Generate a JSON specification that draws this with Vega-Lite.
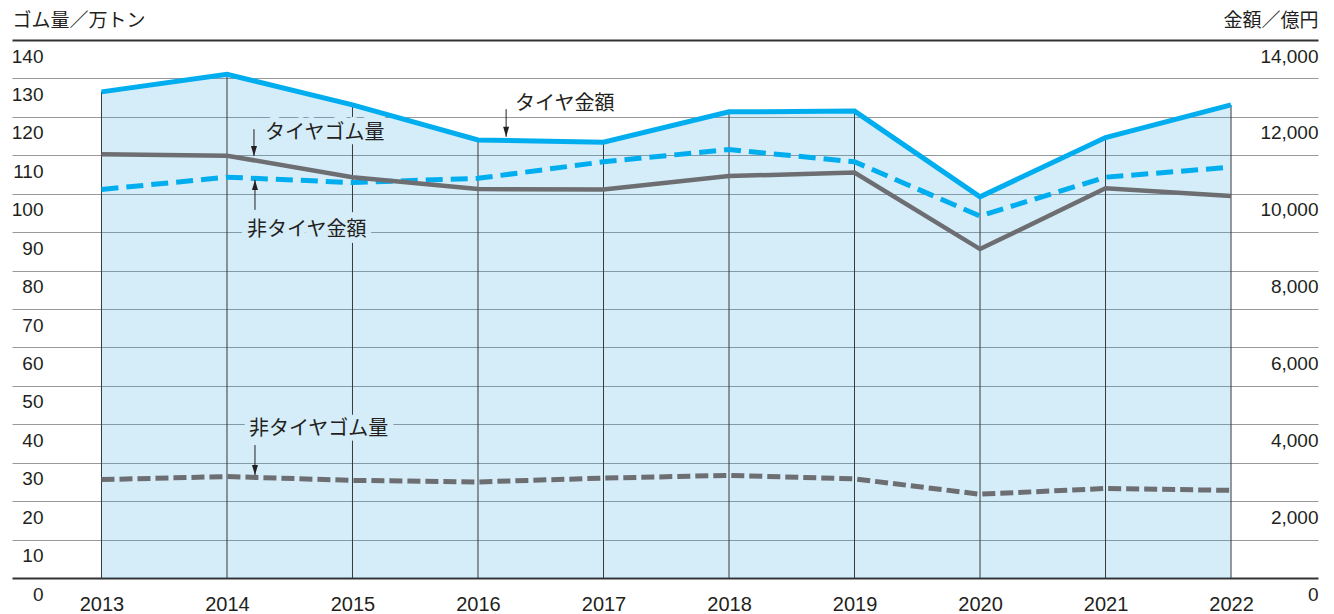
{
  "$schema": "https://vega.github.io/schema/vega-lite/v6.json",
  "width": 1306,
  "height": 538,
  "autosize": {"type": "none"},
  "padding": {"left": 12, "top": 40, "right": 16, "bottom": 36},
  "background": "white",
  "config": {"view": {"stroke": null}, "font": "Liberation Sans, Noto Sans CJK JP, sans-serif"},
  "datasets": {
    "main": [
      {"year": 2013, "tire_amt": 12650, "nontire_amt": 10110, "tire_rub": 110.3, "nontire_rub": 25.6},
      {"year": 2014, "tire_amt": 13110, "nontire_amt": 10430, "tire_rub": 109.9, "nontire_rub": 26.4},
      {"year": 2015, "tire_amt": 12310, "nontire_amt": 10290, "tire_rub": 104.3, "nontire_rub": 25.4},
      {"year": 2016, "tire_amt": 11400, "nontire_amt": 10400, "tire_rub": 101.2, "nontire_rub": 25.0},
      {"year": 2017, "tire_amt": 11340, "nontire_amt": 10830, "tire_rub": 101.1, "nontire_rub": 26.0},
      {"year": 2018, "tire_amt": 12130, "nontire_amt": 11150, "tire_rub": 104.6, "nontire_rub": 26.7},
      {"year": 2019, "tire_amt": 12150, "nontire_amt": 10830, "tire_rub": 105.5, "nontire_rub": 25.8},
      {"year": 2020, "tire_amt": 9920, "nontire_amt": 9420, "tire_rub": 85.6, "nontire_rub": 21.8},
      {"year": 2021, "tire_amt": 11460, "nontire_amt": 10430, "tire_rub": 101.4, "nontire_rub": 23.3},
      {"year": 2022, "tire_amt": 12310, "nontire_amt": 10690, "tire_rub": 99.4, "nontire_rub": 22.8}
    ],
    "notes": [
      {"label": "タイヤ金額", "year": 2016.295, "y": 123.3, "halo": "no"},
      {"label": "タイヤゴム量", "year": 2014.303, "y": 115.8, "halo": "yes"},
      {"label": "非タイヤ金額", "year": 2014.16, "y": 90.6, "halo": "yes"},
      {"label": "非タイヤゴム量", "year": 2014.175, "y": 38.8, "halo": "yes"}
    ],
    "arrows": [
      {"year": 2016.224, "y1": 122.0, "y2": 114.8, "dir": "down"},
      {"year": 2014.215, "y1": 116.8, "y2": 109.8, "dir": "down"},
      {"year": 2014.223, "y1": 95.8, "y2": 103.6, "dir": "up"},
      {"year": 2014.223, "y1": 34.6, "y2": 26.8, "dir": "down"}
    ]
  },
  "encoding": {
    "x": {
      "field": "year",
      "type": "quantitative",
      "scale": {"domain": [2012.287, 2022.693], "nice": false, "zero": false},
      "axis": {
        "values": [2013, 2014, 2015, 2016, 2017, 2018, 2019, 2020, 2021, 2022],
        "format": "d",
        "domain": false,
        "ticks": false,
        "grid": false,
        "labelFontSize": 20,
        "labelFont": "Liberation Sans",
        "labelBaseline": "middle",
        "labelPadding": 26,
        "labelFlush": false,
        "labelColor": "#231f20",
        "title": null
      }
    }
  },
  "layer": [
    {
      "data": {"name": "main"},
      "mark": {"type": "area", "fill": "#2da0e1", "fillOpacity": 0.2},
      "encoding": {
        "y": {
          "field": "tire_amt",
          "type": "quantitative",
          "stack": null,
          "scale": {"domain": [0, 14000], "nice": false},
          "axis": {
            "orient": "right",
            "values": [0, 2000, 4000, 6000, 8000, 10000, 12000, 14000],
            "format": ",.0f",
            "grid": false,
            "domain": false,
            "ticks": false,
            "tickSize": 0,
            "labelAlign": "right",
            "labelBaseline": "middle",
            "labelPadding": 0,
            "labelOffset": 16,
            "labelFlush": false,
            "labelFontSize": 19,
            "labelFont": "Liberation Sans",
            "labelColor": "#231f20",
            "title": "金額／億円",
            "titleAngle": 0,
            "titleX": 0,
            "titleY": -20,
            "titleAlign": "right",
            "titleBaseline": "middle",
            "titleFontSize": 19,
            "titleFontWeight": "normal",
            "titleFont": "Noto Sans CJK JP",
            "titleColor": "#231f20"
          }
        }
      }
    },
    {
      "data": {"name": "main"},
      "mark": {"type": "line", "strokeWidth": 0, "opacity": 0},
      "encoding": {
        "y": {
          "field": "tire_rub",
          "type": "quantitative",
          "scale": {"domain": [0, 140], "nice": false},
          "axis": {
            "orient": "left",
            "values": [0, 10, 20, 30, 40, 50, 60, 70, 80, 90, 100, 110, 120, 130, 140],
            "grid": true,
            "gridColor": {"condition": {"test": "datum.value === 0 || datum.value === 140", "value": "#333333"}, "value": "#999999"},
            "gridWidth": {"condition": {"test": "datum.value === 0 || datum.value === 140", "value": 2}, "value": 1},
            "domain": false,
            "ticks": false,
            "tickSize": 0,
            "labelAlign": "right",
            "labelBaseline": "middle",
            "labelPadding": -31,
            "labelOffset": 16,
            "labelFlush": false,
            "labelFontSize": 19,
            "labelFont": "Liberation Sans",
            "labelColor": "#231f20",
            "title": "ゴム量／万トン",
            "titleAngle": 0,
            "titleX": 0,
            "titleY": -20,
            "titleAlign": "left",
            "titleBaseline": "middle",
            "titleFontSize": 19,
            "titleFontWeight": "normal",
            "titleFont": "Noto Sans CJK JP",
            "titleColor": "#231f20"
          }
        }
      }
    },
    {
      "data": {"name": "main"},
      "mark": {"type": "rule", "color": "#3a3a3a", "strokeWidth": 1},
      "encoding": {
        "y": {"field": "tire_amt", "type": "quantitative", "scale": {"domain": [0, 14000], "nice": false}, "axis": null},
        "y2": {"datum": 0}
      }
    },
    {
      "data": {"name": "main"},
      "mark": {"type": "line", "color": "#00aeef", "strokeWidth": 5, "strokeDash": [17, 8], "strokeCap": "butt"},
      "encoding": {
        "y": {"field": "nontire_amt", "type": "quantitative", "scale": {"domain": [0, 14000], "nice": false}, "axis": null}
      }
    },
    {
      "data": {"name": "main"},
      "mark": {"type": "line", "color": "#00aeef", "strokeWidth": 5},
      "encoding": {
        "y": {"field": "tire_amt", "type": "quantitative", "scale": {"domain": [0, 14000], "nice": false}, "axis": null}
      }
    },
    {
      "data": {"name": "main"},
      "mark": {"type": "line", "color": "#6d6e71", "strokeWidth": 4.5},
      "encoding": {
        "y": {"field": "tire_rub", "type": "quantitative", "scale": {"domain": [0, 140], "nice": false}, "axis": null}
      }
    },
    {
      "data": {"name": "main"},
      "mark": {"type": "line", "color": "#6d6e71", "strokeWidth": 5, "strokeDash": [13, 5], "strokeCap": "butt"},
      "encoding": {
        "y": {"field": "nontire_rub", "type": "quantitative", "scale": {"domain": [0, 140], "nice": false}, "axis": null}
      }
    },
    {
      "data": {"name": "notes"},
      "transform": [{"filter": "datum.halo === 'yes'"}],
      "mark": {"type": "text", "align": "left", "baseline": "middle", "fontSize": 20, "font": "Noto Sans CJK JP", "fill": "#d5ecf9", "stroke": "#d5ecf9", "strokeWidth": 12, "strokeJoin": "round"},
      "encoding": {
        "y": {"field": "y", "type": "quantitative", "scale": {"domain": [0, 140], "nice": false}, "axis": null},
        "text": {"field": "label"}
      }
    },
    {
      "data": {"name": "notes"},
      "mark": {"type": "text", "align": "left", "baseline": "middle", "fontSize": 20, "font": "Noto Sans CJK JP", "fill": "#231f20"},
      "encoding": {
        "y": {"field": "y", "type": "quantitative", "scale": {"domain": [0, 140], "nice": false}, "axis": null},
        "text": {"field": "label"}
      }
    },
    {
      "data": {"name": "arrows"},
      "mark": {"type": "rule", "color": "#231f20", "strokeWidth": 1},
      "encoding": {
        "y": {"field": "y1", "type": "quantitative", "scale": {"domain": [0, 140], "nice": false}, "axis": null},
        "y2": {"field": "y2"}
      }
    },
    {
      "data": {"name": "arrows"},
      "mark": {"type": "point", "filled": true, "size": 100, "color": "#231f20", "opacity": 1, "strokeWidth": 0},
      "encoding": {
        "y": {"field": "y2", "type": "quantitative", "scale": {"domain": [0, 140], "nice": false}, "axis": null},
        "shape": {
          "field": "dir",
          "type": "nominal",
          "scale": {"domain": ["down", "up"], "range": ["M-0.6,-2L0.6,-2L0,0Z", "M-0.6,2L0.6,2L0,0Z"]},
          "legend": null
        }
      }
    }
  ],
  "resolve": {"scale": {"y": "independent"}}
}
